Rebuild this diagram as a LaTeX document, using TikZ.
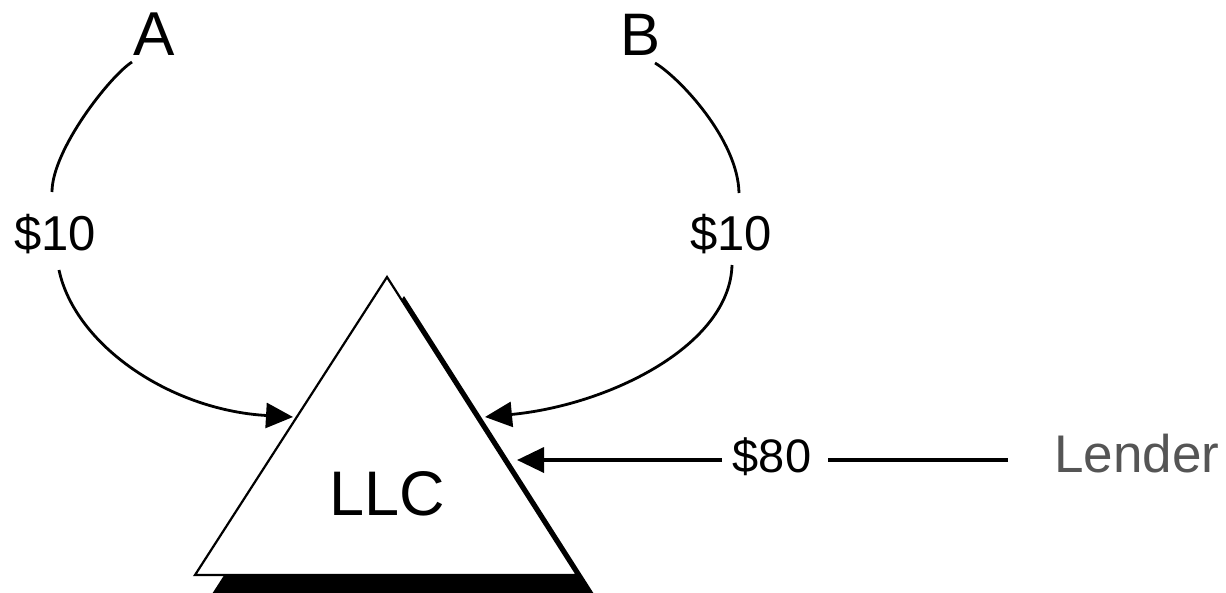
\documentclass[tikz,border=0pt]{standalone}
\usepackage{fontspec}
\setmainfont{Liberation Sans}
\usetikzlibrary{arrows.meta}
\definecolor{lendergray}{HTML}{555555}
\begin{document}
\begin{tikzpicture}[x=1pt,y=-1pt,
  lbl/.style={inner sep=0pt, anchor=base},
  flow/.style={line width=2.8pt, -{Triangle[length=27pt,width=25pt]}},
  link/.style={line width=2.8pt},
  hline/.style={line width=3.6pt}]
\useasboundingbox (0,0) rectangle (1226,592);
\fill[white] (0,0) rectangle (1226,592);
% triangle with shadow
\coordinate (T) at (387,277);
\coordinate (BL) at (195,575);
\coordinate (BR) at (577,575);
\begin{scope}
  \clip (0,0) rectangle (1226,592);
  \fill[black] (404,296) -- (212,594) -- (594,594) -- cycle;
\end{scope}
\filldraw[fill=white, line width=2.2pt, line join=miter] (T) -- (BL) -- (BR) -- cycle;
% labels
\node[lbl, font=\fontsize{62}{62}\selectfont] (A) at (154,55) {A};
\node[lbl, font=\fontsize{60}{60}\selectfont] (B) at (641,55) {B};
\node[lbl, font=\fontsize{49}{49}\selectfont] (s1) at (55,250) {\$10};
\node[lbl, font=\fontsize{49}{49}\selectfont] (s2) at (731,250) {\$10};
\node[lbl, font=\fontsize{63}{63}\selectfont] (LLC) at (387,515) {LLC};
\node[lbl, font=\fontsize{47}{47}\selectfont] (s80) at (772,472) {\$80};
\node[lbl, font=\fontsize{53}{53}\selectfont, text=lendergray] (L) at (1137,472) {Lender};
% connector end points
\coordinate (a1) at (132,62);
\coordinate (a2) at (52,192);
\coordinate (a3) at (59,270);
\coordinate (ta) at (293,417);
\coordinate (b1) at (655,63);
\coordinate (b2) at (739,193);
\coordinate (b3) at (732,265);
\coordinate (tb) at (485,417);
\coordinate (c1) at (722,460);
\coordinate (tc) at (517,460);
\coordinate (d1) at (1008,460);
\coordinate (d2) at (828,460);
% connectors
\draw[link] (a1) .. controls (110,76) and (52,150) .. (a2);
\draw[flow] (a3) .. controls (75,345) and (170,410) .. (ta);
\draw[link] (b1) .. controls (680,78) and (738,140) .. (b2);
\draw[flow] (b3) .. controls (730,345) and (610,405) .. (tb);
\draw[hline, -{Triangle[length=27pt,width=25pt]}] (c1) -- (tc);
\draw[hline] (d1) -- (d2);
\end{tikzpicture}
\end{document}
